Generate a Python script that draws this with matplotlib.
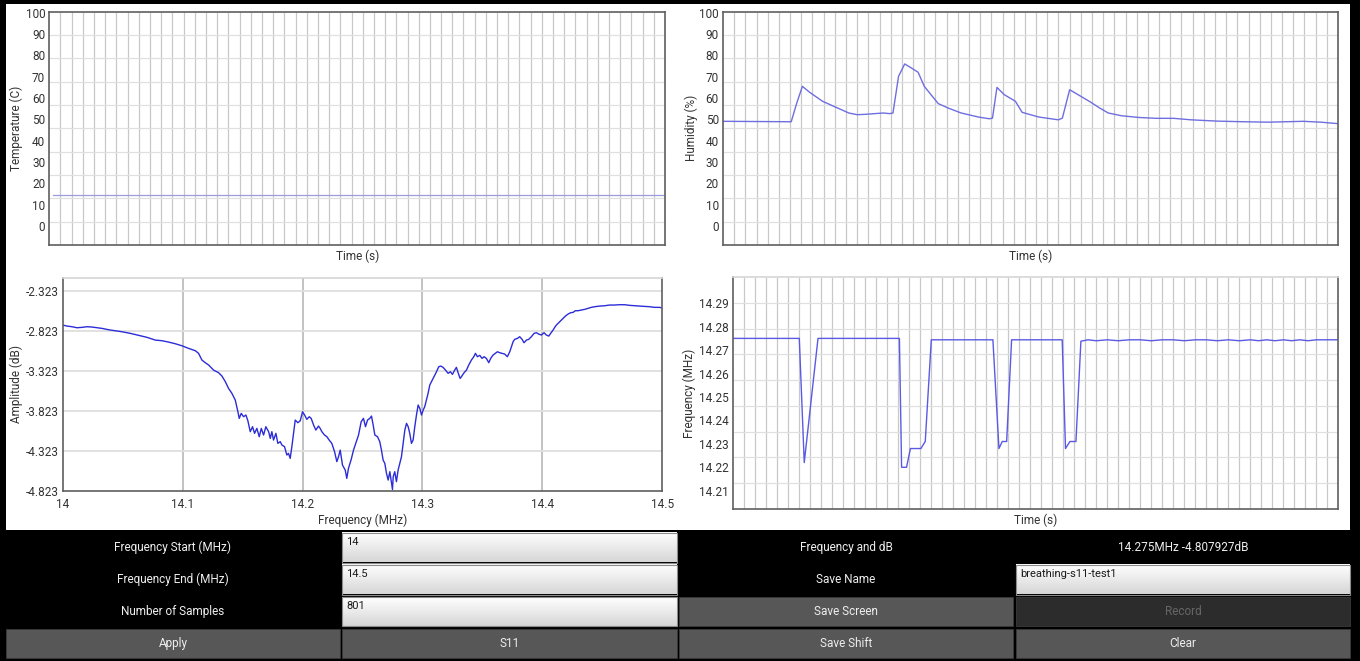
import numpy as np
import matplotlib
matplotlib.use("Agg")
import matplotlib.pyplot as plt
from matplotlib.patches import Rectangle

plt.rcParams['font.family'] = ['Roboto', 'DejaVu Sans']

W, H, DPI = 1360, 661, 100

# ---------------- data ----------------
time_range = (0, 110)

temp_time = [0.7, 110.0]
temp_c = [14.6, 14.6]

hum_time = [0, 12.0, 12.2, 13.2, 14.2, 15.5, 17.8, 20.1, 22.5, 24.0,
            25.6, 27.1, 28.7, 29.8, 30.4, 31.4, 32.5, 33.7, 34.9, 36.0,
            37.2, 38.5, 40.3, 42.6, 45.7, 47.6, 48.2, 49.0, 50.3, 52.3,
            53.5, 56.5, 58.9, 60.0, 60.7, 62.0, 63.5, 65.5, 67.4, 68.9,
            71.3, 74.4, 77.5, 80.6, 83.7, 88.3, 93.0, 97.6, 100.7, 103.8,
            106.9, 110.0]
hum_pct = [49.1, 48.9, 48.9, 57.7, 65.5, 62.7, 58.5, 55.8, 53.0, 52.2,
           52.4, 52.7, 53.0, 52.7, 53.0, 70.2, 76.0, 74.1, 72.1, 65.5,
           61.6, 57.4, 55.3, 53.0, 51.1, 50.3, 50.6, 65.0, 61.6, 58.5,
           53.3, 51.1, 50.2, 49.8, 50.6, 63.9, 61.6, 58.5, 55.3, 53.0,
           51.7, 50.9, 50.5, 50.5, 49.8, 49.2, 48.9, 48.7, 48.9, 49.1,
           48.7, 48.0]

amp_freq = [14.0000, 14.0036, 14.0078, 14.0119, 14.0161, 14.0203, 14.0244, 14.0286,
            14.0328, 14.0383, 14.0439, 14.0494, 14.0564, 14.0633, 14.0703, 14.0772,
            14.0828, 14.0883, 14.0939, 14.0994, 14.1050, 14.1106, 14.1133, 14.1161,
            14.1189, 14.1217, 14.1258, 14.1300, 14.1328, 14.1356, 14.1383, 14.1411,
            14.1439, 14.1461, 14.1472, 14.1489, 14.1508, 14.1528, 14.1544, 14.1564,
            14.1583, 14.1600, 14.1619, 14.1639, 14.1656, 14.1675, 14.1694, 14.1717,
            14.1731, 14.1744, 14.1758, 14.1778, 14.1794, 14.1814, 14.1828, 14.1850,
            14.1869, 14.1883, 14.1897, 14.1911, 14.1925, 14.1939, 14.1961, 14.1981,
            14.2000, 14.2017, 14.2036, 14.2056, 14.2072, 14.2092, 14.2111, 14.2133,
            14.2147, 14.2161, 14.2183, 14.2203, 14.2222, 14.2244, 14.2267, 14.2286,
            14.2300, 14.2314, 14.2333, 14.2356, 14.2369, 14.2383, 14.2406, 14.2425,
            14.2444, 14.2467, 14.2489, 14.2508, 14.2525, 14.2542, 14.2561, 14.2575,
            14.2589, 14.2603, 14.2625, 14.2644, 14.2658, 14.2672, 14.2686, 14.2700,
            14.2714, 14.2728, 14.2750, 14.2756, 14.2769, 14.2783, 14.2797, 14.2811,
            14.2825, 14.2839, 14.2853, 14.2867, 14.2881, 14.2894, 14.2908, 14.2922,
            14.2936, 14.2950, 14.2964, 14.2978, 14.2992, 14.3006, 14.3019, 14.3033,
            14.3047, 14.3061, 14.3075, 14.3089, 14.3103, 14.3117, 14.3136, 14.3153,
            14.3172, 14.3192, 14.3214, 14.3233, 14.3250, 14.3269, 14.3283, 14.3297,
            14.3314, 14.3325, 14.3347, 14.3367, 14.3386, 14.3408, 14.3428, 14.3442,
            14.3458, 14.3478, 14.3497, 14.3514, 14.3533, 14.3553, 14.3569, 14.3589,
            14.3608, 14.3625, 14.3644, 14.3664, 14.3686, 14.3708, 14.3728, 14.3742,
            14.3756, 14.3769, 14.3792, 14.3811, 14.3831, 14.3847, 14.3867, 14.3886,
            14.3908, 14.3931, 14.3950, 14.3969, 14.3992, 14.4014, 14.4033, 14.4053,
            14.4069, 14.4089, 14.4103, 14.4117, 14.4131, 14.4153, 14.4172, 14.4192,
            14.4214, 14.4236, 14.4256, 14.4275, 14.4297, 14.4325, 14.4353, 14.4381,
            14.4408, 14.4436, 14.4478, 14.4519, 14.4561, 14.4603, 14.4644, 14.4686,
            14.4728, 14.4769, 14.4811, 14.4853, 14.4894, 14.4936, 14.4978, 14.5000]
amp_db = [-2.752, -2.765, -2.773, -2.786, -2.781, -2.773, -2.777, -2.786,
          -2.794, -2.811, -2.823, -2.836, -2.856, -2.881, -2.906, -2.940,
          -2.948, -2.965, -2.986, -3.011, -3.044, -3.073, -3.106, -3.190,
          -3.223, -3.252, -3.315, -3.348, -3.390, -3.460, -3.544, -3.606,
          -3.690, -3.836, -3.919, -3.856, -3.898, -3.877, -3.948, -4.085,
          -4.023, -4.106, -4.044, -4.148, -4.044, -4.127, -4.023, -4.085,
          -4.169, -4.085, -4.190, -4.106, -4.231, -4.210, -4.252, -4.273,
          -4.377, -4.356, -4.419, -4.273, -4.106, -3.940, -3.973, -3.948,
          -3.836, -3.877, -3.931, -3.898, -3.919, -4.002, -4.065, -4.015,
          -4.044, -4.085, -4.127, -4.148, -4.190, -4.231, -4.335, -4.460,
          -4.398, -4.315, -4.502, -4.565, -4.669, -4.544, -4.431, -4.315,
          -4.231, -4.127, -3.960, -3.919, -4.023, -3.940, -3.919, -3.890,
          -4.002, -4.127, -4.148, -4.210, -4.315, -4.440, -4.481, -4.606,
          -4.690, -4.585, -4.807927, -4.648, -4.585, -4.710, -4.565, -4.481,
          -4.398, -4.231, -4.065, -3.981, -4.023, -4.106, -4.231, -4.190,
          -4.023, -3.877, -3.752, -3.794, -3.877, -3.815, -3.773, -3.690,
          -3.606, -3.502, -3.461, -3.419, -3.377, -3.336, -3.273, -3.265,
          -3.281, -3.315, -3.356, -3.336, -3.369, -3.315, -3.281, -3.348,
          -3.419, -3.398, -3.348, -3.315, -3.252, -3.190, -3.148, -3.106,
          -3.148, -3.131, -3.169, -3.148, -3.169, -3.223, -3.169, -3.127,
          -3.106, -3.086, -3.098, -3.106, -3.115, -3.148, -3.086, -3.023,
          -2.960, -2.931, -2.919, -2.898, -2.931, -2.973, -2.940, -2.931,
          -2.898, -2.856, -2.848, -2.865, -2.877, -2.848, -2.877, -2.890,
          -2.856, -2.815, -2.781, -2.752, -2.731, -2.698, -2.669, -2.640,
          -2.615, -2.598, -2.594, -2.573, -2.573, -2.565, -2.556, -2.544,
          -2.531, -2.523, -2.515, -2.511, -2.502, -2.502, -2.498, -2.498,
          -2.506, -2.511, -2.515, -2.519, -2.523, -2.531, -2.531, -2.540]

peak_time = [0, 12.0, 12.9, 15.4, 30.2, 30.6, 31.5, 32.2, 34.1, 34.9,
             36.0, 47.2, 48.3, 48.9, 49.7, 50.6, 59.8, 60.4, 61.2, 62.3,
             63.2, 64.5, 66, 68, 70, 72, 74, 76, 78, 80,
             82, 84, 86, 88, 90, 92, 94, 95.5, 97, 98.5,
             100, 101.5, 103, 104.5, 106, 108, 110]
peak_freq = [14.275, 14.275, 14.222, 14.275, 14.275, 14.220, 14.220, 14.228, 14.228, 14.231,
             14.2744, 14.2744, 14.228, 14.231, 14.231, 14.2744, 14.2744, 14.228, 14.231, 14.231,
             14.2738, 14.2744, 14.2740, 14.2744, 14.2740, 14.2744, 14.2744, 14.2740, 14.2744, 14.2744,
             14.2740, 14.2744, 14.2744, 14.2740, 14.2744, 14.2740, 14.2744, 14.2740, 14.2744, 14.2740,
             14.2744, 14.2740, 14.2744, 14.2740, 14.2744, 14.2744, 14.2744]

pct_ticks = list(range(0, 101, 10))
amp_xticks = [14.0, 14.1, 14.2, 14.3, 14.4, 14.5]
amp_xlabels = ['14', '14.1', '14.2', '14.3', '14.4', '14.5']
amp_yticks = [-2.323, -2.823, -3.323, -3.823, -4.323, -4.823]
freq_yticks = [14.21, 14.22, 14.23, 14.24, 14.25, 14.26, 14.27, 14.28, 14.29]

freq_start_txt = '14'
freq_end_txt = '14.5'
samples_txt = '801'
save_name_txt = 'breathing-s11-test1'

# ---------------- figure ----------------
fig = plt.figure(figsize=(W / DPI, H / DPI), dpi=DPI, facecolor='black')

# full-figure pixel canvas for the app panels
bg = fig.add_axes([0, 0, 1, 1])
bg.set_xlim(0, W)
bg.set_ylim(H, 0)
bg.axis('off')
bg.add_patch(Rectangle((6, 4), 1344, 526, facecolor='white', edgecolor='none'))

TXT = '#333333'
SPINE = '#5f5f5f'
FS = 8.5


def px_axes(x0, y0, x1, y1):
    ax = fig.add_axes([x0 / W, 1 - y1 / H, (x1 - x0) / W, (y1 - y0) / H])
    ax.set_facecolor('white')
    return ax, (x0, y0, x1, y1)


def place_labels(ax, box, xl, xl_y, yl, yl_x):
    x0, y0, x1, y1 = box
    ax.set_xlabel(xl, fontsize=FS, color=TXT)
    ax.xaxis.set_label_coords(0.5, (y1 - xl_y) / (y1 - y0))
    ax.xaxis.label.set_va('center')
    ax.set_ylabel(yl, fontsize=FS, color=TXT)
    ax.yaxis.set_label_coords((yl_x - x0) / (x1 - x0), 0.5)
    ax.yaxis.label.set_va('center')


def time_chart(box, ylim, n_hgrid, yticks, ylabels, yl, yl_x, top_dark=True):
    ax, b = px_axes(*box)
    ax.set_xlim(*time_range)
    ax.set_ylim(*ylim)
    ax.vlines(np.arange(time_range[0] + 2, time_range[1], 2), ylim[0], ylim[1],
              colors='#c8c8c8', lw=0.9, zorder=0)
    ax.hlines(np.linspace(ylim[0], ylim[1], n_hgrid + 1)[1:-1], *time_range,
              colors='#e0e0e0', lw=0.9, zorder=0)
    ax.set_xticks([])
    ax.set_yticks(yticks, labels=ylabels)
    ax.tick_params(axis='y', length=0, pad=3, labelsize=FS, labelcolor=TXT)
    for side, sp in ax.spines.items():
        sp.set_color(SPINE if (side != 'top' or top_dark) else '#d6d6d6')
        sp.set_linewidth(1.2)
    place_labels(ax, b, 'Time (s)', b[3] + 11.5, yl, yl_x)
    return ax


# temperature
ax_t = time_chart((49.3, 11.7, 665, 245), (-8.9, 100.5), 10, pct_ticks,
                  [str(v) for v in pct_ticks], 'Temperature (C)', 16)
ax_t.plot(temp_time, temp_c, color='#9c9cdc', lw=0.9)

# humidity
ax_h = time_chart((723, 11.7, 1338, 245), (-8.9, 100.5), 10, pct_ticks,
                  [str(v) for v in pct_ticks], 'Humidity (%)', 691)
ax_h.plot(hum_time, hum_pct, color='#6e6ee0', lw=1.0)

# resonance frequency over time
ax_f = time_chart((733.3, 277, 1338.3, 509), (14.2022, 14.3012), 9, freq_yticks,
                  [f'{v:.2f}' for v in freq_yticks], 'Frequency (MHz)', 689,
                  top_dark=False)
ax_f.plot(peak_time, peak_freq, color='#5a5ae4', lw=1.0)

# S11 amplitude sweep
ax_a, box_a = px_axes(62.7, 278, 662.3, 490.7)
ax_a.set_xlim(14.0, 14.5)
ax_a.set_ylim(-4.823, -2.164)
ax_a.vlines(amp_xticks[1:-1], -4.823, -2.164, colors='#bdbdbd', lw=1.3, zorder=0)
ax_a.hlines(amp_yticks[:-1], 14.0, 14.5, colors='#dedede', lw=1.3, zorder=0)
ax_a.plot(amp_freq, amp_db, color='#2c2cd8', lw=1.0)
ax_a.set_xticks(amp_xticks, labels=amp_xlabels)
ax_a.set_yticks(amp_yticks, labels=[f'{v:.3f}' for v in amp_yticks])
ax_a.tick_params(axis='both', length=0, labelsize=FS, labelcolor=TXT)
ax_a.tick_params(axis='y', pad=3)
ax_a.tick_params(axis='x', pad=5)
for side, sp in ax_a.spines.items():
    sp.set_color('#d6d6d6' if side == 'top' else SPINE)
    sp.set_linewidth(1.2)
place_labels(ax_a, box_a, 'Frequency (MHz)', 520, 'Amplitude (dB)', 16)

# ---------------- control panel ----------------
i_min = int(np.argmin(amp_db))
readout = f'{amp_freq[i_min]:.3f}MHz {amp_db[i_min]:.6f}dB'

cols = [(6, 340), (342, 677), (679, 1013), (1016, 1350)]
rows = [(533, 562.5), (565, 594.5), (597, 626), (628.5, 658)]
WHITE_TXT = '#eeeeee'
PFS = 8.5

grad = np.linspace(1.0, 0.84, 40)
grad_img = np.dstack([grad, grad, grad]).reshape(40, 1, 3)


def cell_center(c, r):
    return (cols[c][0] + cols[c][1]) / 2, (rows[r][0] + rows[r][1]) / 2


def label(c, r, text):
    x, y = cell_center(c, r)
    bg.text(x, y, text, ha='center', va='center', color=WHITE_TXT, fontsize=PFS)


def field(c, r, text):
    x0, x1 = cols[c]
    y0, y1 = rows[r]
    bg.imshow(grad_img, extent=(x0, x1, y1, y0), aspect='auto', zorder=1)
    bg.add_patch(Rectangle((x0, y0), x1 - x0, y1 - y0, facecolor='none',
                           edgecolor='#8c8c8c', lw=0.8, zorder=2))
    bg.text(x0 + 4, y0 + 9, text, ha='left', va='center', color='#1a1a1a',
            fontsize=8, zorder=3)


def button(c, r, text, face='#575757', fg=WHITE_TXT):
    x0, x1 = cols[c]
    y0, y1 = rows[r]
    bg.add_patch(Rectangle((x0, y0), x1 - x0, y1 - y0, facecolor=face,
                           edgecolor='#3a3a3a', lw=0.6, zorder=1))
    x, y = cell_center(c, r)
    bg.text(x, y, text, ha='center', va='center', color=fg, fontsize=PFS, zorder=3)


label(0, 0, 'Frequency Start (MHz)')
field(1, 0, freq_start_txt)
label(2, 0, 'Frequency and dB')
label(3, 0, readout)

label(0, 1, 'Frequency End (MHz)')
field(1, 1, freq_end_txt)
label(2, 1, 'Save Name')
field(3, 1, save_name_txt)

label(0, 2, 'Number of Samples')
field(1, 2, samples_txt)
button(2, 2, 'Save Screen')
button(3, 2, 'Record', face='#2c2c2c', fg='#666666')

button(0, 3, 'Apply')
button(1, 3, 'S11')
button(2, 3, 'Save Shift')
button(3, 3, 'Clear')

fig.savefig('out.png', dpi=DPI, facecolor='black')
